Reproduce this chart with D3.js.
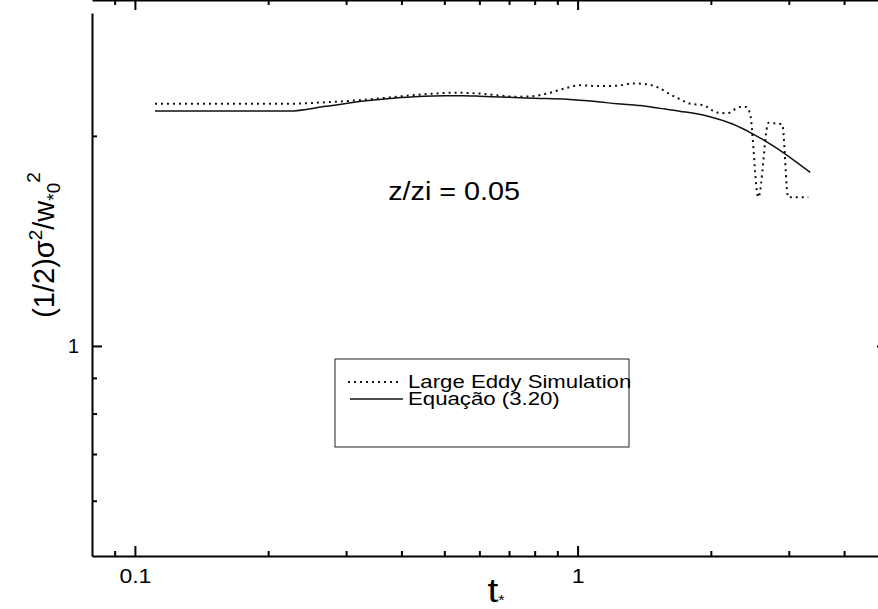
<!DOCTYPE html>
<html>
<head>
  <meta charset="UTF-8">
  <script src="https://d3js.org/d3.v7.min.js"></script>
  <style>
    body { margin: 0; background: #fff; }
    text { font-family: "Liberation Sans", Arial, sans-serif; fill: #000; }
  </style>
</head>
<body>
  <div id="my_dataviz"></div>
  <script>
    // Large Eddy Simulation (dotted)
    var lesT = [0.111, 0.223, 0.26, 0.317, 0.38, 0.447, 0.533, 0.6, 0.667, 0.72, 0.792, 0.866, 0.946, 1.012, 1.123, 1.227, 1.334, 1.435, 1.511, 1.643, 1.704, 1.795, 1.921, 2.066, 2.177, 2.329, 2.403, 2.453, 2.56, 2.70, 2.78, 2.899, 2.99, 3.319];
    var lesV = [2.224, 2.224, 2.232, 2.249, 2.272, 2.294, 2.306, 2.30, 2.285, 2.276, 2.28, 2.306, 2.344, 2.363, 2.357, 2.36, 2.378, 2.371, 2.35, 2.282, 2.257, 2.224, 2.214, 2.16, 2.155, 2.2, 2.2, 2.15, 1.633, 2.089, 2.085, 2.078, 1.633, 1.633];

    // Equação (3.20) (solid)
    var eqT = [0.111, 0.223, 0.27, 0.333, 0.4, 0.45, 0.5, 0.55, 0.6, 0.667, 0.8, 0.946, 1.1, 1.227, 1.384, 1.536, 1.7, 1.961, 2.246, 2.492, 2.766, 3.022, 3.354];
    var eqV = [2.171, 2.171, 2.205, 2.245, 2.27, 2.28, 2.283, 2.283, 2.28, 2.274, 2.265, 2.257, 2.24, 2.224, 2.21, 2.19, 2.17, 2.136, 2.078, 2.012, 1.935, 1.862, 1.773];

    // ticks
    var xMajor = [0.1, 1];
    var xMinor = [0.09, 0.2, 0.3, 0.4, 0.5, 0.6, 0.7, 0.8, 0.9, 2, 3, 4];
    var yMajor = [1];
    var yMinor = [0.6, 0.7, 0.8, 0.9, 2];

    var legendLabels = ["Large Eddy Simulation", "Equação (3.20)"];
    var annotation = "z/zi = 0.05";

    var W = 878, H = 609;
    var stretch = 1.15; // the picture is a bit wider than the font

    var svg = d3.select("#my_dataviz").append("svg")
      .attr("width", W)
      .attr("height", H);

    var x = d3.scaleLog().domain([0.08, 5]).range([92, 887]);
    var y = d3.scaleLog().domain([0.5, 3]).range([556, 13]);

    // axes on four sides, ticks pointing inwards
    function addAxis(axis, ticks, len, pos, labelled) {
      var g = svg.append("g")
        .attr("transform", pos)
        .call(axis.tickValues(ticks).tickSize(-len).tickSizeOuter(0).tickPadding(13)
          .tickFormat(labelled ? d3.format("") : function () { return ""; }));
      g.selectAll("line").attr("stroke", "#000").attr("stroke-width", 2);
      g.select(".domain").attr("stroke", "#000").attr("stroke-width", 2);
      g.selectAll("text").style("font-size", "20px").attr("fill", "#000");
      return g;
    }

    var bottom = y.range()[0], top = y.range()[1];
    var left = x.range()[0], right = x.range()[1];

    var gxb = addAxis(d3.axisBottom(x), xMajor, 10, "translate(0," + bottom + ")", true);
    gxb.selectAll("text").attr("transform", "scale(" + stretch + ",1)");
    addAxis(d3.axisBottom(x), xMinor, 5, "translate(0," + bottom + ")", false).select(".domain").remove();
    addAxis(d3.axisTop(x), xMajor, 10, "translate(0," + top + ")", false);
    addAxis(d3.axisTop(x), xMinor, 5, "translate(0," + top + ")", false).select(".domain").remove();

    addAxis(d3.axisLeft(y), yMajor, 10, "translate(" + left + ",0)", true);
    addAxis(d3.axisLeft(y), yMinor, 5, "translate(" + left + ",0)", false).select(".domain").remove();
    addAxis(d3.axisRight(y), yMajor, 10, "translate(" + right + ",0)", false);
    addAxis(d3.axisRight(y), yMinor, 5, "translate(" + right + ",0)", false).select(".domain").remove();

    // curves
    var lesData = lesT.map(function (t, i) { return [t, lesV[i]]; });
    var eqData = eqT.map(function (t, i) { return [t, eqV[i]]; });

    var lesLine = d3.line()
      .x(function (d) { return x(d[0]); })
      .y(function (d) { return y(d[1]); })
      .curve(d3.curveMonotoneX);

    var eqLine = d3.line()
      .x(function (d) { return x(d[0]); })
      .y(function (d) { return y(d[1]); })
      .curve(d3.curveMonotoneX);

    svg.append("path")
      .datum(lesData)
      .attr("d", lesLine)
      .attr("fill", "none")
      .attr("stroke", "#111")
      .attr("stroke-width", 2)
      .attr("stroke-dasharray", "2,4");

    svg.append("path")
      .datum(eqData)
      .attr("d", eqLine)
      .attr("fill", "none")
      .attr("stroke", "#111")
      .attr("stroke-width", 1.5);

    // annotation
    svg.append("text")
      .attr("transform", "translate(520,200) scale(" + stretch + ",1)")
      .attr("text-anchor", "end")
      .style("font-size", "25px")
      .text(annotation);

    // axis titles
    var xt = svg.append("text")
      .attr("transform", "translate(496,602) scale(" + stretch + ",1)")
      .attr("text-anchor", "middle")
      .style("font-size", "34px");
    xt.append("tspan").text("t");
    xt.append("tspan").attr("dy", 3).style("font-size", "14px").text("*");

    var yt = svg.append("text")
      .attr("transform", "translate(54,245) rotate(-90)")
      .attr("text-anchor", "middle")
      .style("font-size", "29px");
    yt.append("tspan").text("(1/2)σ");
    yt.append("tspan").attr("dy", -12).style("font-size", "19px").text("2");
    yt.append("tspan").attr("dy", 12).text("/w");
    yt.append("tspan").attr("dy", 6).style("font-size", "19px").text("*0");
    yt.append("tspan").attr("dy", -20).style("font-size", "19px").text("2");

    // legend
    svg.append("rect")
      .attr("x", 335).attr("y", 359)
      .attr("width", 294).attr("height", 88)
      .attr("fill", "none")
      .attr("stroke", "#222")
      .attr("stroke-width", 1);

    var legendStyles = [
      { dash: "2,4", w: 2, x1: 348, x2: 398 },
      { dash: null, w: 1.5, x1: 350, x2: 403 }
    ];
    legendLabels.forEach(function (label, i) {
      var ly = 382 + i * 17;
      svg.append("line")
        .attr("x1", legendStyles[i].x1).attr("x2", legendStyles[i].x2)
        .attr("y1", ly).attr("y2", ly)
        .attr("stroke", "#111")
        .attr("stroke-width", legendStyles[i].w)
        .attr("stroke-dasharray", legendStyles[i].dash);
      svg.append("text")
        .attr("transform", "translate(408," + (ly + 6) + ") scale(1.2,1)")
        .style("font-size", "18.5px")
        .text(label);
    });
  </script>
</body>
</html>
